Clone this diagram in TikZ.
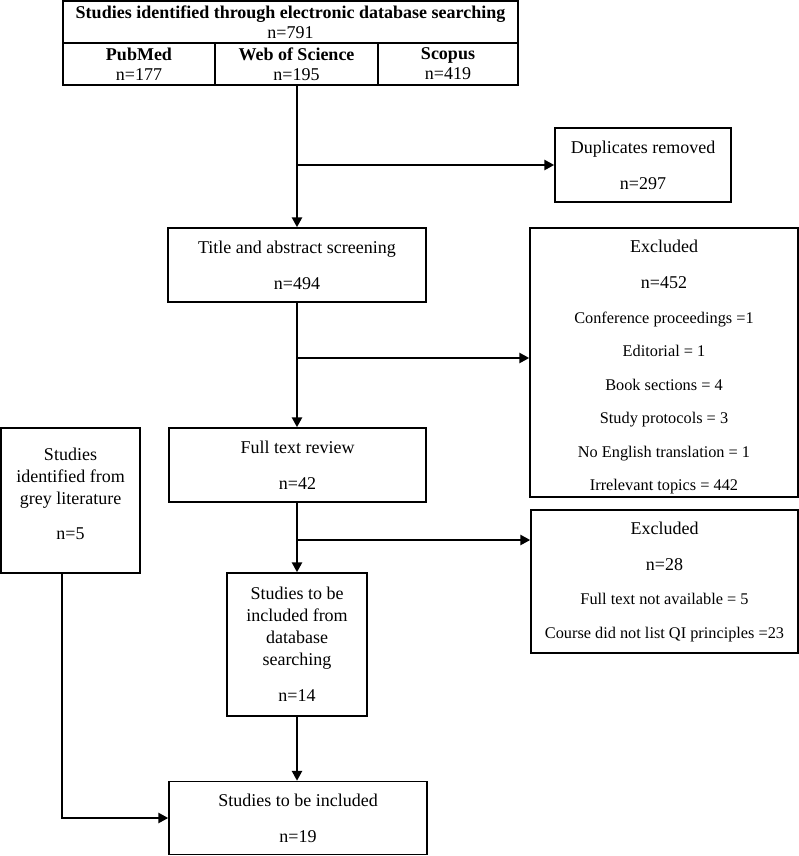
\documentclass[tikz,border=0pt]{standalone}
\usepackage{fontspec}
\setmainfont{Liberation Serif}
\usetikzlibrary{arrows.meta}
\begin{document}
\begin{tikzpicture}[x=1pt,y=-1pt,
  box/.style={draw, line width=1.4pt, align=center, inner sep=0pt,
    font=\fontsize{18pt}{22pt}\selectfont},
  smallbox/.style={box, font=\fontsize{16.3pt}{22pt}\selectfont},
  cell/.style={draw, line width=1.2pt, align=center, inner sep=0pt,
    font=\fontsize{18pt}{20pt}\selectfont},
  arr/.style={line width=2.7pt, -{Triangle[length=10pt,width=10pt]}}]
\useasboundingbox (0,0) rectangle (799,856);
\newcommand{\bigline}[1]{{\fontsize{18pt}{22pt}\selectfont #1}}
% top table
\node[cell, minimum width=455pt, minimum height=42pt] (db) at (290.5,22)
  {\textbf{Studies identified through electronic database searching}\\n=791};
\node[cell, minimum width=152pt, minimum height=42pt] (pubmed) at (139,64) {\textbf{PubMed}\\n=177};
\node[cell, minimum width=163pt, minimum height=42pt] (wos) at (296.5,64) {\textbf{Web of Science}\\n=195};
\node[cell, minimum width=140pt, minimum height=42pt] (scopus) at (448,64) {\textbf{Scopus}\\n=419};
% boxes
\node[box, minimum width=176pt, minimum height=74pt] (dup) at (643,165) {Duplicates removed\\[14pt]n=297};
\node[box, minimum width=258pt, minimum height=74pt] (title) at (297,265) {Title and abstract screening\\[14pt]n=494};
\node[smallbox, minimum width=268pt, minimum height=269pt] (excl1) at (664,362.5)
  {\rule{0pt}{21.5pt}\bigline{Excluded}\\[14pt]\bigline{n=452}\\[13pt]Conference proceedings =1\\[11.5pt]Editorial = 1\\[11.5pt]Book sections = 4\\[11.5pt]Study protocols = 3\\[11.5pt]No English translation = 1\\[11.5pt]Irrelevant topics = 442};
\node[box, minimum width=257pt, minimum height=74pt] (full) at (297.5,465) {Full text review\\[14pt]n=42};
\node[box, minimum width=139pt, minimum height=145pt] (grey) at (70.5,500.5) {Studies\\identified from\\grey literature\\[13pt]n=5\rule[-13pt]{0pt}{0pt}};
\node[smallbox, minimum width=267pt, minimum height=143pt] (excl2) at (664.5,581.5)
  {\bigline{Excluded}\\[14pt]\bigline{n=28}\\[12pt]Full text not available = 5\\[12pt]Course did not list QI principles =23};
\node[box, minimum width=140pt, minimum height=143pt] (db14) at (297,644.5) {Studies to be\\included from\\database\\searching\\[14pt]n=14};
\node[box, minimum width=258pt, minimum height=73pt] (incl) at (298,818) {Studies to be included\\[14pt]n=19};
% connectors
\coordinate (b2) at (0,358);
\coordinate (b3) at (0,540);
\coordinate (gx) at (62,0);
\draw[arr] (wos.south -| title.north) -- (title.north);
\draw[arr] (title.north |- dup.west) -- (dup.west);
\draw[arr] (title.south) -- (title.south |- full.north);
\draw[arr] (title.south |- b2) -- (excl1.west |- b2);
\draw[arr] (db14.north |- full.south) -- (db14.north);
\draw[arr] (db14.north |- b3) -- (excl2.west |- b3);
\draw[arr] (db14.south) -- (db14.south |- incl.north);
\draw[arr] (grey.south -| gx) -- (incl.west -| gx) -- (incl.west);
\end{tikzpicture}
\end{document}
